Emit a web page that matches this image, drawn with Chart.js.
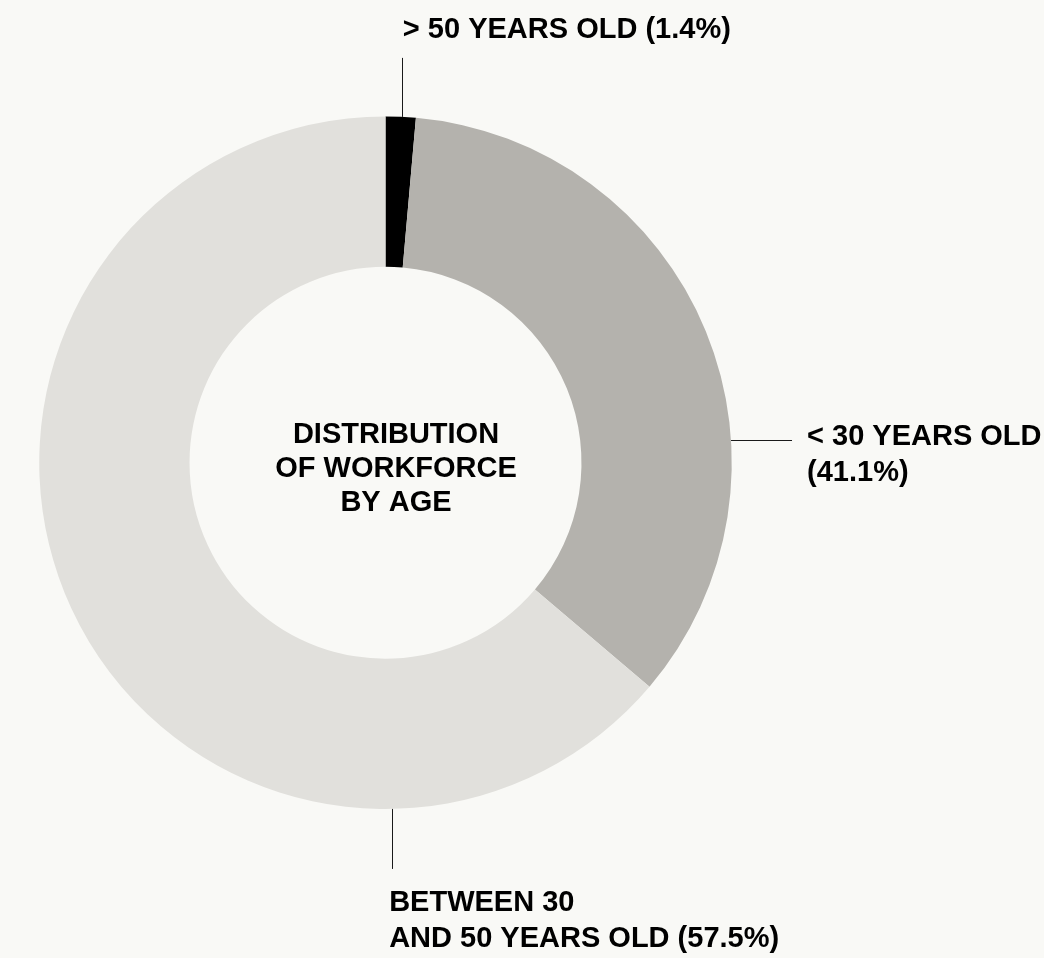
<!DOCTYPE html>
<html>
<head>
<meta charset="utf-8">
<script src="https://cdn.jsdelivr.net/npm/chart.js@4/dist/chart.umd.min.js"></script>
<style>
  html, body { margin: 0; padding: 0; background: #f9f9f6; }
  #wrap { width: 1044px; height: 958px; }
</style>
</head>
<body>
<div id="wrap"><canvas id="agechart" width="1044" height="958"></canvas></div>
<script>
// slice sizes as drawn in the picture, and the percentages printed in the labels
const categories = ['> 50 YEARS OLD', '< 30 YEARS OLD', 'BETWEEN 30 AND 50 YEARS OLD'];
const values = [1.4, 34.8, 63.8];
const shownPercents = ['1.4%', '41.1%', '57.5%'];
const labelLines = [
  ['> 50 YEARS OLD (1.4%)'],
  ['< 30 YEARS OLD', '(41.1%)'],
  ['BETWEEN 30', 'AND 50 YEARS OLD (57.5%)']
];
const centerLines = ['DISTRIBUTION', 'OF WORKFORCE', 'BY AGE'];

const FONT = 'bold 29px "Liberation Sans", Arial, Helvetica, sans-serif';

// where each callout leaves the ring and where its text sits
const callouts = [
  { angle: 2.76, dir: 'up', len: 59, dx: 0.7, dy: -20 },
  { angle: 86.3, dir: 'right', len: 61, dx: 15, dy: 4.3 },
  { angle: 178.9, dir: 'down', len: 60, dx: -3, dy: 42 }
];

const calloutPlugin = {
  id: 'callouts',
  afterDraw(chart) {
    const ctx = chart.ctx;
    const arc = chart.getDatasetMeta(0).data[0];
    const cx = arc.x, cy = arc.y, r = arc.outerRadius;

    ctx.save();
    ctx.font = FONT;
    ctx.fillStyle = '#000';
    ctx.strokeStyle = '#1a1a1a';
    ctx.lineWidth = 1;
    ctx.textBaseline = 'alphabetic';

    callouts.forEach(function (c, i) {
      const a = c.angle * Math.PI / 180;
      const ax = cx + r * Math.sin(a);
      const ay = cy - r * Math.cos(a);
      let ex = ax, ey = ay;
      if (c.dir === 'up') ey = ay - c.len;
      if (c.dir === 'down') ey = ay + c.len;
      if (c.dir === 'right') ex = ax + c.len;

      ctx.beginPath();
      if (c.dir === 'right') {
        ctx.moveTo(ax, Math.round(ay) + 0.5);
        ctx.lineTo(ex, Math.round(ey) + 0.5);
      } else {
        ctx.moveTo(Math.round(ax) + 0.5, ay);
        ctx.lineTo(Math.round(ex) + 0.5, ey);
      }
      ctx.stroke();

      ctx.textAlign = 'left';
      const lines = labelLines[i];
      const tx = ex + c.dx;
      const ty = ey + c.dy;
      lines.forEach(function (line, j) {
        ctx.fillText(line, tx, ty + j * 36);
      });
    });

    // centre title
    ctx.textAlign = 'center';
    centerLines.forEach(function (line, j) {
      ctx.fillText(line, cx + 10.5, cy - 20 + j * 34);
    });
    ctx.restore();
  }
};

new Chart(
  document.getElementById('agechart'),
  {
    type: 'doughnut',
    plugins: [calloutPlugin],
    options: {
      responsive: false,
      animation: false,
      events: [],
      cutout: '56.6%',
      layout: {
        padding: { left: 39, top: 116.5, right: 312, bottom: 149 }
      },
      plugins: {
        legend: { display: false },
        tooltip: { enabled: false }
      }
    },
    data: {
      labels: categories.map(function (c, i) {
        return c + ' (' + shownPercents[i] + ')';
      }),
      datasets: [
        {
          data: values,
          backgroundColor: ['#000000', '#b4b2ad', '#e1e0dc'],
          borderWidth: 0
        }
      ]
    }
  }
);
</script>
</body>
</html>
